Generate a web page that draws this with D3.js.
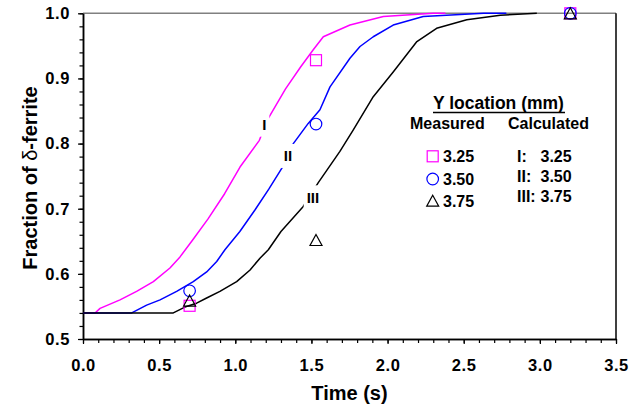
<!DOCTYPE html>
<html>
<head>
<meta charset="utf-8">
<script src="https://cdn.jsdelivr.net/npm/d3@7"></script>
<style>
  html, body { margin: 0; padding: 0; background: #fff; }
  svg { display: block; font-family: "Liberation Sans", Arial, sans-serif; font-weight: bold; }
</style>
</head>
<body>
<svg id="chart" width="640" height="409"></svg>
<script>
// Calculated delta-ferrite fraction vs time for three Y locations
const curveI = [[0,0.54],[0.079,0.54],[0.112,0.547],[0.243,0.560],[0.352,0.573],[0.462,0.588],[0.571,0.609],
  [0.637,0.626],[0.72,0.652],[0.82,0.684],[0.93,0.723],[1.031,0.764],[1.158,0.805],[1.21,0.836],[1.33,0.884],
  [1.43,0.918],[1.512,0.944],[1.578,0.964],[1.753,0.982],[1.972,0.995],[2.3,1.0],[2.38,1.0]];
const curveII = [[0,0.54],[0.32,0.54],[0.418,0.552],[0.506,0.560],[0.615,0.573],[0.724,0.588],[0.812,0.603],
  [0.878,0.619],[0.932,0.637],[1.03,0.665],[1.129,0.698],[1.22,0.73],[1.305,0.762],[1.381,0.800],[1.479,0.831],
  [1.556,0.852],[1.622,0.887],[1.753,0.931],[1.819,0.949],[1.906,0.964],[2.037,0.982],[2.234,0.995],[2.63,1.0],[2.78,1.0]];
const curveIII = [[0,0.54],[0.593,0.54],[0.669,0.549],[0.746,0.555],[0.812,0.563],[0.899,0.573],[1.009,0.588],
  [1.097,0.606],[1.162,0.624],[1.217,0.637],[1.30,0.665],[1.445,0.703],[1.545,0.740],[1.687,0.788],[1.775,0.821],
  [1.906,0.872],[2.037,0.910],[2.19,0.956],[2.322,0.977],[2.52,0.990],[2.74,0.997],[2.98,1.0]];

// Measured values
const measured325 = [[0.70,0.551],[1.53,0.928],[3.2,1.0]];
const measured350 = [[0.70,0.574],[1.53,0.830],[3.2,1.0]];
const measured375 = [[0.70,0.559],[1.53,0.652],[3.2,1.0]];

// Curve labels placed on the lines
const curveLabels = [
  {text: "I", x: 1.19, y: 0.829},
  {text: "II", x: 1.346, y: 0.781},
  {text: "III", x: 1.51, y: 0.7175}
];

const xTicks = [0, 0.5, 1.0, 1.5, 2.0, 2.5, 3.0, 3.5];
const yTicks = [0.5, 0.6, 0.7, 0.8, 0.9, 1.0];
const xMinor = d3.range(0, 36).map(i => i / 10);
const yMinor = d3.range(0, 26).map(i => 0.5 + i * 0.02);

const legendMeasured = ["3.25", "3.50", "3.75"];
const legendCalculated = [["I:", "3.25"], ["II:", "3.50"], ["III:", "3.75"]];

const svg = d3.select("#chart");
const plotLeft = 83, plotRight = 616, plotTop = 13.3, plotBottom = 339;

const x = d3.scaleLinear().domain([0, 3.5]).range([plotLeft, plotRight]);
const y = d3.scaleLinear().domain([0.5, 1.0]).range([plotBottom, plotTop]);

// top border (grey) and right border (black)
svg.append("line").attr("x1", plotLeft).attr("x2", plotRight).attr("y1", plotTop).attr("y2", plotTop)
  .attr("stroke", "#808080").attr("stroke-width", 1.6);
svg.append("line").attr("x1", plotRight).attr("x2", plotRight).attr("y1", plotTop).attr("y2", plotBottom)
  .attr("stroke", "#000").attr("stroke-width", 1.5);

// axes
const fmt = d3.format(".1f");
const gx = svg.append("g").attr("transform", `translate(0,${plotBottom})`);
gx.append("g").call(d3.axisBottom(x).tickValues(xMinor).tickSize(4).tickSizeOuter(0).tickFormat(""));
gx.append("g").call(d3.axisBottom(x).tickValues(xTicks).tickSize(5).tickSizeOuter(0).tickPadding(15).tickFormat(fmt));
const gy = svg.append("g").attr("transform", `translate(${plotLeft},0)`);
gy.append("g").call(d3.axisLeft(y).tickValues(yMinor).tickSize(3.5).tickSizeOuter(0).tickFormat(""));
gy.append("g").call(d3.axisLeft(y).tickValues(yTicks).tickSize(5).tickSizeOuter(0).tickPadding(8).tickFormat(fmt));

svg.selectAll(".domain").attr("stroke", "#000").attr("stroke-width", 1.5);
svg.selectAll(".tick line").attr("stroke", "#000").attr("stroke-width", 1.2);
svg.selectAll(".tick text").attr("font-family", "Liberation Sans, Arial, sans-serif")
  .attr("font-weight", "bold").attr("font-size", 16.5).attr("fill", "#000")
  .attr("letter-spacing", 0.6);

// axis titles
svg.append("text").attr("x", (plotLeft + plotRight) / 2).attr("y", 400)
  .attr("text-anchor", "middle").attr("font-size", 20).text("Time (s)");
const yt = svg.append("text").attr("transform", "translate(37,178) rotate(-90)")
  .attr("text-anchor", "middle").attr("font-size", 20);
yt.append("tspan").text("Fraction of ");
yt.append("tspan").attr("font-weight", "normal").text("δ");
yt.append("tspan").text("-ferrite");

// calculated curves
const line = d3.line().x(d => x(d[0])).y(d => y(d[1]));
[[curveI, "#ff00ff"], [curveII, "#0000ff"], [curveIII, "#000000"]].forEach(([data, color]) => {
  svg.append("path").datum(data).attr("d", line)
    .attr("fill", "none").attr("stroke", color).attr("stroke-width", 1.5)
    .attr("stroke-linejoin", "round");
});

// curve labels with white boxes
curveLabels.forEach(l => {
  const g = svg.append("g").attr("transform", `translate(${x(l.x)},${y(l.y)})`);
  const w = l.text.length * 4.2 + 6;
  g.append("rect").attr("x", -w / 2).attr("y", -12).attr("width", w).attr("height", 24).attr("fill", "#fff");
  g.append("text").attr("text-anchor", "middle").attr("y", 5.5).attr("font-size", 15).text(l.text);
});

// measured markers
const sq = 11, cr = 5.8, tri = 12;
function square(g, px, py) {
  g.append("rect").attr("x", px - sq / 2).attr("y", py - sq / 2).attr("width", sq).attr("height", sq)
    .attr("fill", "none").attr("stroke", "#ff00ff").attr("stroke-width", 1.2);
}
function circle(g, px, py) {
  g.append("circle").attr("cx", px).attr("cy", py).attr("r", cr)
    .attr("fill", "none").attr("stroke", "#0000ff").attr("stroke-width", 1.2);
}
function triangle(g, px, py) {
  const h = 11;
  g.append("path").attr("d", `M${px},${py - h / 2}L${px + tri / 2},${py + h / 2}L${px - tri / 2},${py + h / 2}Z`)
    .attr("fill", "none").attr("stroke", "#000").attr("stroke-width", 1.2);
}
const mk = svg.append("g");
measured325.forEach(d => square(mk, x(d[0]), y(d[1])));
measured350.forEach(d => circle(mk, x(d[0]), y(d[1])));
measured375.forEach(d => triangle(mk, x(d[0]), y(d[1])));

// legend
const lg = svg.append("g");
lg.append("text").attr("x", 433).attr("y", 109).attr("font-size", 17.5).text("Y location (mm)");
lg.append("line").attr("x1", 433).attr("x2", 565).attr("y1", 112.5).attr("y2", 112.5)
  .attr("stroke", "#000").attr("stroke-width", 1.5);
lg.append("text").attr("x", 410).attr("y", 129).attr("font-size", 16).text("Measured");
lg.append("text").attr("x", 508).attr("y", 129).attr("font-size", 16).text("Calculated");

const rowBase = [162.3, 185, 206.7];
const markerFns = [square, circle, triangle];
legendMeasured.forEach((t, i) => {
  markerFns[i](lg, 432.7, rowBase[i] - 6);
  lg.append("text").attr("x", 443).attr("y", rowBase[i]).attr("font-size", 16).text(t);
});
const rowBaseR = [161.7, 181.5, 201.5];
legendCalculated.forEach((t, i) => {
  lg.append("text").attr("x", 517).attr("y", rowBaseR[i]).attr("font-size", 16).text(t[0]);
  lg.append("text").attr("x", 540.5).attr("y", rowBaseR[i]).attr("font-size", 16).text(t[1]);
});
</script>
</body>
</html>
